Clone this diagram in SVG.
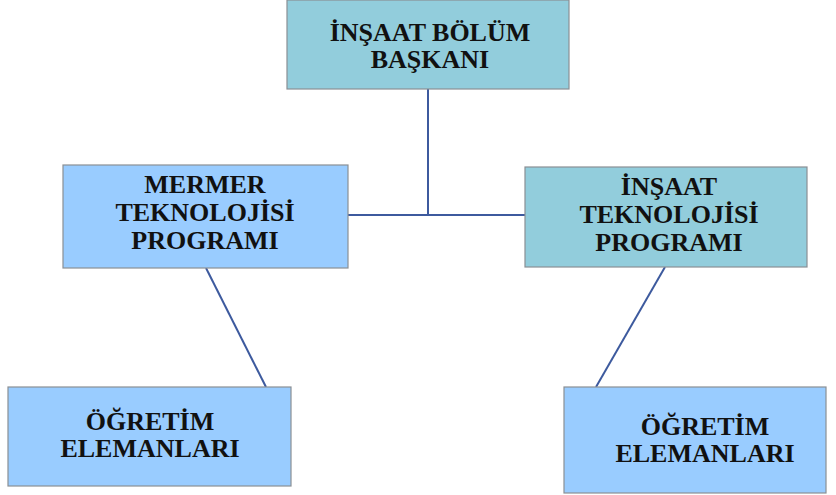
<svg xmlns="http://www.w3.org/2000/svg" width="836" height="495" viewBox="0 0 836 495">
<style>
.box{stroke:#8a8f94;stroke-width:1.2}
.teal{fill:#92cddc}
.blue{fill:#99ccff}
.t{font-family:"Liberation Serif","Times New Roman",serif;font-weight:bold;font-size:26px;fill:#111;text-anchor:middle}
.c{stroke:#3d5a9e;stroke-width:2;fill:none}
</style>
<rect width="836" height="495" fill="#fff"/>
<g id="connectors">
<line class="c" x1="428" y1="89" x2="428" y2="215"/>
<line class="c" x1="348" y1="215" x2="525" y2="215"/>
<line class="c" x1="206" y1="268" x2="266" y2="387"/>
<line class="c" x1="665" y1="267" x2="596" y2="387"/>
</g>
<g id="bolum-baskani">
<rect class="box teal" x="287" y="0" width="282" height="89"/>
<text class="t" x="430" y="41">İNŞAAT BÖLÜM</text>
<text class="t" x="430" y="68">BAŞKANI</text>
</g>
<g id="mermer">
<rect class="box blue" x="63" y="165" width="285" height="103"/>
<text class="t" x="205" y="193">MERMER</text>
<text class="t" x="205" y="221">TEKNOLOJİSİ</text>
<text class="t" x="205" y="249">PROGRAMI</text>
</g>
<g id="insaat-tek">
<rect class="box teal" x="525" y="167" width="282" height="100"/>
<text class="t" x="669" y="195">İNŞAAT</text>
<text class="t" x="669" y="223">TEKNOLOJİSİ</text>
<text class="t" x="669" y="251">PROGRAMI</text>
</g>
<g id="ogretim-sol">
<rect class="box blue" x="8" y="387" width="283" height="99"/>
<text class="t" x="150" y="430">ÖĞRETİM</text>
<text class="t" x="150" y="457">ELEMANLARI</text>
</g>
<g id="ogretim-sag">
<rect class="box blue" x="564" y="387" width="262" height="106"/>
<text class="t" x="705" y="435">ÖĞRETİM</text>
<text class="t" x="705" y="462">ELEMANLARI</text>
</g>
</svg>
